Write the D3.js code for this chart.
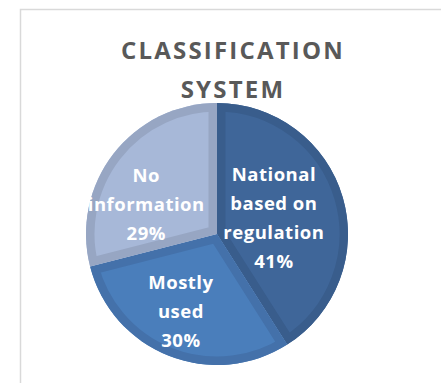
<!DOCTYPE html>
<html>
<head>
<meta charset="utf-8">
<script src="https://cdn.jsdelivr.net/npm/d3@7"></script>
<style>
  html, body { margin: 0; padding: 0; background: #fff; }
  svg { display: block; }
</style>
</head>
<body>
<svg id="chart" width="441" height="383"></svg>
<script>
const title = ["CLASSIFICATION", "SYSTEM"];
const categories = ["National based on regulation", "Mostly used", "No information"];
const labelLines = [["National", "based on", "regulation"], ["Mostly", "used"], ["No", "information"]];
const values = [41, 30, 29];
const fillColors = ["#3F6699", "#4A7EBB", "#A7B8D8"];
const edgeColors = ["#395D8C", "#4471AA", "#97A6C3"];

const svg = d3.select("#chart");

// chart frame
svg.append("rect").attr("x", 20.5).attr("y", 9.5).attr("width", 440).attr("height", 400)
  .attr("fill", "#fff").attr("stroke", "#d9d9d9").attr("stroke-width", 1.5);

// title
const tg = svg.append("text").attr("text-anchor", "middle")
  .attr("font-family", "'Open Sans', sans-serif").attr("font-weight", 700)
  .attr("font-size", 24).attr("letter-spacing", 2.2).attr("fill", "#595959");
title.forEach((t, i) => tg.append("tspan").attr("x", 233).attr("y", 59 + i * 39).text(t));

const cx = 217, cy = 234, R = 131;
const g = svg.append("g").attr("transform", `translate(${cx},${cy})`);
const pie = d3.pie().sort(null).value(d => d);
const arcs = pie(values);
const arc = d3.arc().innerRadius(0).outerRadius(R);
const defs = svg.append("defs");

arcs.forEach((a, i) => {
  const id = "clip" + i;
  defs.append("clipPath").attr("id", id).append("path").attr("d", arc(a));
  g.append("path").attr("d", arc(a)).attr("fill", fillColors[i]);
  g.append("path").attr("d", arc(a)).attr("fill", "none")
    .attr("stroke", edgeColors[i]).attr("stroke-width", 17)
    .attr("stroke-linejoin", "miter").attr("clip-path", `url(#${id})`);
});

// labels
const labelArc = d3.arc().innerRadius(R * 0.5).outerRadius(R * 0.5);
const nudges = [[-6, 3], [-12, 17], [-19, 11]];
const lh = 29;
arcs.forEach((a, i) => {
  const [x0, y0] = labelArc.centroid(a);
  const lines = labelLines[i].concat([values[i] + "%"]);
  const x = x0 + nudges[i][0], y = y0 + nudges[i][1];
  const blockH = (lines.length - 1) * lh;
  const t = g.append("text").attr("text-anchor", "middle")
    .attr("font-family", "'Open Sans', sans-serif").attr("font-weight", 700)
    .attr("font-size", 18.5).attr("letter-spacing", 0.5).attr("fill", "#fff");
  lines.forEach((s, j) => t.append("tspan").attr("x", x)
    .attr("y", y - blockH / 2 + j * lh + 6).text(s));
});
</script>
</body>
</html>
